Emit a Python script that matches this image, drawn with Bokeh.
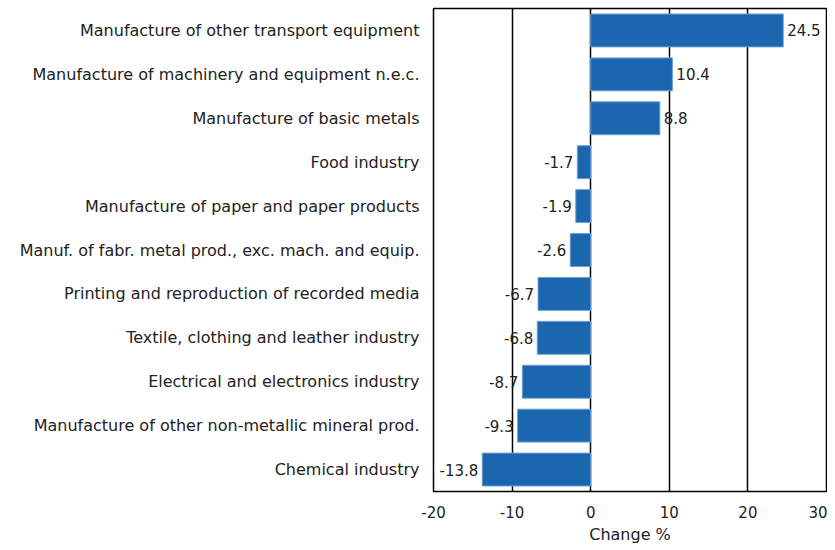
from bokeh.plotting import figure
from bokeh.models import ColumnDataSource, FactorRange, FixedTicker, PrintfTickFormatter
from bokeh.core.properties import value
from bokeh.embed import file_html
from bokeh.resources import INLINE

# data, bottom to top as drawn
industries = [
    "Chemical industry",
    "Manufacture of other non-metallic mineral prod.",
    "Electrical and electronics industry",
    "Textile, clothing and leather industry",
    "Printing and reproduction of recorded media",
    "Manuf. of fabr. metal prod., exc. mach. and equip.",
    "Manufacture of paper and paper products",
    "Food industry",
    "Manufacture of basic metals",
    "Manufacture of machinery and equipment n.e.c.",
    "Manufacture of other transport equipment",
]
change = [-13.8, -9.3, -8.7, -6.8, -6.7, -2.6, -1.9, -1.7, 8.8, 10.4, 24.5]

src = ColumnDataSource(dict(
    ind=industries,
    val=change,
    txt=["%.1f" % v for v in change],
    lx=[v + (0.5 if v > 0 else -0.5) for v in change],
    al=["left" if v > 0 else "right" for v in change],
))

p = figure(
    y_range=FactorRange(*industries, range_padding=0),
    x_range=(-20, 30),
    frame_width=393, frame_height=483,
    min_border_left=433, min_border_right=1,
    min_border_top=8, min_border_bottom=55,
    output_backend="svg", toolbar_location=None,
)

p.hbar(y="ind", right="val", left=0, height=0.75, source=src,
       fill_color="#1a67b0", line_color="#6fa0d6", line_width=1)
p.text(x="lx", y="ind", text="txt", text_align="al", source=src,
       text_baseline="middle", text_font=value("DejaVu Sans"),
       text_font_size="15px", text_color="#222222")

p.outline_line_color = "black"
p.outline_line_width = 1.5
p.ygrid.grid_line_color = None
p.xgrid.grid_line_color = "black"
p.xgrid.grid_line_width = 1.5
p.xgrid.ticker = FixedTicker(ticks=[-10, 0, 10, 20])

p.xaxis.ticker = FixedTicker(ticks=[-20, -10, 0, 10, 20, 30])
p.xaxis.formatter = PrintfTickFormatter(format="%d")
p.xaxis.axis_label = "Change %"
p.xaxis.axis_label_text_font_style = "normal"
p.xaxis.axis_label_text_font = "DejaVu Sans"
p.xaxis.axis_label_text_font_size = "16px"
p.xaxis.axis_label_standoff = 4
p.xaxis.major_tick_line_color = None
p.xaxis.minor_tick_line_color = None
p.xaxis.axis_line_color = "black"
p.xaxis.major_label_standoff = 8

p.yaxis.axis_line_color = None
p.yaxis.major_tick_line_color = None
p.yaxis.major_label_standoff = 8

for ax in (p.xaxis, p.yaxis):
    ax.major_label_text_font = "DejaVu Sans"
    ax.major_label_text_font_size = "15px"
    ax.major_label_text_color = "#222222"
    ax.axis_label_text_color = "#222222"
p.yaxis.major_label_text_font_size = "16px"

open("out.html", "w").write(file_html(p, INLINE))
